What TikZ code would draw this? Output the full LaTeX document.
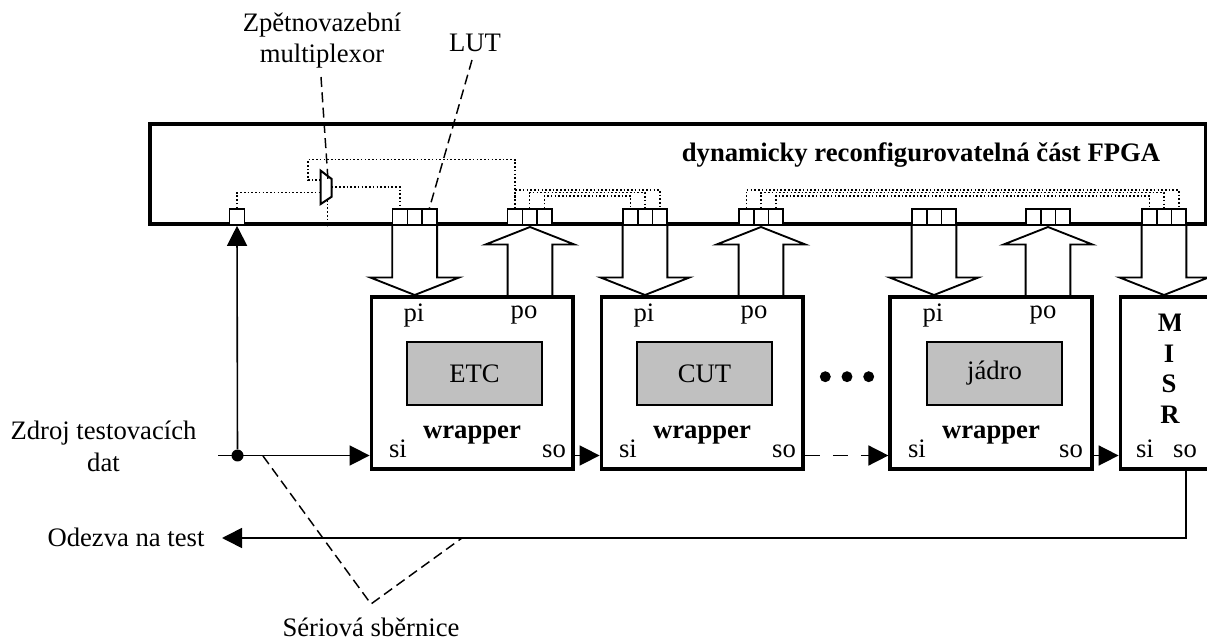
\documentclass[tikz,border=0pt]{standalone}
\usepackage{fontspec}
\usetikzlibrary{arrows.meta,shapes.arrows}
\setmainfont{Liberation Serif}
\definecolor{coregray}{HTML}{C0C0C0}

\begin{document}
\begin{tikzpicture}[x=0.75pt,y=-0.75pt,
 txt/.style={inner sep=0pt,anchor=base,font=\fontsize{20}{23.25}\selectfont,align=center},
 boldtxt/.style={txt,font=\fontsize{20}{23.25}\selectfont\bfseries},
 fpgabox/.style={draw,line width=2.8pt,minimum width=791.8pt,minimum height=75.2pt,inner sep=0pt},
 wrapbox/.style={draw,line width=2.8pt,minimum width=151.1pt,minimum height=129pt,inner sep=0pt},
 misrbox/.style={draw,line width=2.8pt,minimum width=70.9pt,minimum height=129pt,inner sep=0pt},
 corebox/.style={draw,line width=1.2pt,fill=coregray,minimum width=101.25pt,minimum height=47pt,inner sep=0pt,font=\fontsize{20}{23.25}\selectfont},
 lutcell/.style={draw,line width=1.2pt,fill=white,minimum width=11pt,minimum height=12pt,inner sep=0pt},
 muxshape/.style={draw,line width=1.5pt,fill=white},
 busarrow/.style={draw,line width=1.4pt,fill=white,single arrow,single arrow tip angle=137,single arrow head extend=16.5pt,single arrow head indent=0pt,minimum height=52.5pt,inner xsep=0pt,inner ysep=16.1pt,anchor=tip},
 busdown/.style={busarrow,rotate=-90},
 busup/.style={busarrow,rotate=90},
 sarrow/.style={-{Triangle[length=15pt,width=15pt]},line width=1.2pt},
 wire/.style={line width=1.1pt,dash pattern=on 1.2pt off 1.6pt},
 tagline/.style={line width=1.1pt,dash pattern=on 7.5pt off 4pt}
]
\useasboundingbox (0,0) rectangle (1207,641);
\node[busdown] (busa) at (414.7,296) {};
\node[busup] (busb) at (530,226) {};
\node[busdown] (busc) at (645,296) {};
\node[busup] (busd) at (761,226) {};
\node[busdown] (buse) at (934,296) {};
\node[busup] (busf) at (1048,226) {};
\node[busdown] (busg) at (1164,296) {};
\node[fpgabox] (fpga) at (677.85,174.15) {};
\node[boldtxt] (fpgatxt) at (921,161.5) {dynamicky reconfigurovatelná část FPGA};
\node[lutcell] (port) at (237,217) {};
\node[lutcell] (a1) at (400,217) {};
\node[lutcell] (a2) at (414.7,217) {};
\node[lutcell] (a3) at (429.4,217) {};
\node[lutcell] (b1) at (515,217) {};
\node[lutcell] (b2) at (529.7,217) {};
\node[lutcell] (b3) at (544.4,217) {};
\node[lutcell] (c1) at (630.5,217) {};
\node[lutcell] (c2) at (645.2,217) {};
\node[lutcell] (c3) at (659.9,217) {};
\node[lutcell] (d1) at (746.5,217) {};
\node[lutcell] (d2) at (761.2,217) {};
\node[lutcell] (d3) at (775.9,217) {};
\node[lutcell] (e1) at (919.5,217) {};
\node[lutcell] (e2) at (934.2,217) {};
\node[lutcell] (e3) at (948.9,217) {};
\node[lutcell] (f1) at (1033.5,217) {};
\node[lutcell] (f2) at (1048.2,217) {};
\node[lutcell] (f3) at (1062.9,217) {};
\node[lutcell] (g1) at (1149.5,217) {};
\node[lutcell] (g2) at (1164.2,217) {};
\node[lutcell] (g3) at (1178.9,217) {};
\coordinate (muxlt) at (320.7,170.7);
\coordinate (muxrt) at (331.7,179);
\coordinate (muxrb) at (331.7,196.7);
\coordinate (muxlb) at (320.7,204);
\coordinate (muxin) at (320.7,192.7);
\coordinate (muxback) at (320.7,180);
\coordinate (muxout) at (331.7,187);
\coordinate (muxsel) at (327.7,200);
\coordinate (fbk) at (308,159.7);
\draw[muxshape] (muxlt) -- (muxrt) -- (muxrb) -- (muxlb) -- cycle;
\draw[wire] (port.north) |- (muxin);
\draw[wire] (muxout) -| (a1.north);
\draw[wire] (muxback) -| (fbk) -| (b1.north);
\draw[wire] (muxsel) -- (muxsel |- fpga.south);
\draw[wire] (b1.north) -- ++(0,-18.3) -| (c3.north);
\draw[wire] (b2.north) -- ++(0,-15.5) -| (c2.north);
\draw[wire] (b3.north) -- ++(0,-12.3) -| (c1.north);
\draw[wire] (d1.north) -- ++(0,-18.3) -| (g3.north);
\draw[wire] (d2.north) -- ++(0,-15.5) -| (g2.north);
\draw[wire] (d3.north) -- ++(0,-12.3) -| (g1.north);
\node[wrapbox] (wrapa) at (472.2,383) {};
\node[wrapbox] (wrapb) at (702.2,383) {};
\node[wrapbox] (wrapc) at (991,383) {};
\node[misrbox] (misr) at (1167.75,383) {};
\node[corebox] (etc) at (474.5,373.4) {ETC};
\node[corebox] (cut) at (704.5,373.4) {CUT};
\node[corebox] (jadro) at (994.5,373.4) {jádro};
\node[txt] (pia) at (414,322) {pi};
\node[txt] (poa) at (524,319) {po};
\node[txt] (sia) at (398,458) {si};
\node[txt] (soa) at (554,458) {so};
\node[boldtxt] (wrta) at (472,439) {wrapper};
\node[txt] (pib) at (644,322) {pi};
\node[txt] (pob) at (754,319) {po};
\node[txt] (sib) at (628,458) {si};
\node[txt] (sob) at (784,458) {so};
\node[boldtxt] (wrtb) at (702,439) {wrapper};
\node[txt] (pic) at (933,322) {pi};
\node[txt] (poc) at (1043,319) {po};
\node[txt] (sic) at (917,458) {si};
\node[txt] (soc) at (1071,458) {so};
\node[boldtxt] (wrtc) at (991,439) {wrapper};
\begin{scope}
\clip (1150,305) rectangle (1180,340);
\node[boldtxt] (misrm) at (1170.5,331.7) {M};
\end{scope}
\node[boldtxt] (misri) at (1169,362.7) {I};
\node[boldtxt] (misrs) at (1169,393) {S};
\node[boldtxt] (misrr) at (1170,424) {R};
\node[txt] (sid) at (1145,458) {si};
\node[txt] (sod) at (1185,458) {so};
\node[circle,fill,minimum size=8.2pt,inner sep=0pt] (dota) at (825.3,376.7) {};
\node[circle,fill,minimum size=8.2pt,inner sep=0pt] (dotb) at (847,376.7) {};
\node[circle,fill,minimum size=8.2pt,inner sep=0pt] (dotc) at (868.7,376.7) {};
\node[circle,fill,minimum size=9pt,inner sep=0pt] (srcdot) at (237.5,455.5) {};
\coordinate (srcin) at (218,455.5);
\coordinate (soturn) at (1185.7,538);
\coordinate (retend) at (222,538);
\draw[sarrow] (srcdot) -- (port.south);
\draw[sarrow] (srcin) -- (wrapa.west |- srcin);
\draw[sarrow] (wrapa.east |- srcin) -- (wrapb.west |- srcin);
\draw[sarrow,dash pattern=on 11.25pt off 9.75pt] (wrapb.east |- srcin) -- (wrapc.west |- srcin);
\draw[sarrow] (wrapc.east |- srcin) -- (misr.west |- srcin);
\draw[sarrow] (soturn |- misr.south) -- (soturn) -- (retend);
\node[txt] (zdroj) at (103.5,439.5) {Zdroj testovacích};
\node[txt] (dat) at (103.5,471.7) {dat};
\node[txt] (odezva) at (126,546.7) {Odezva na test};
\node[txt] (serial) at (371,636.5) {Sériová sběrnice};
\node[txt] (zpet) at (322,32) {Zpětnovazební};
\node[txt] (multi) at (322,63) {multiplexor};
\node[txt] (lut) at (475,52) {LUT};
\coordinate (muxtag) at (321,77);
\coordinate (muxtip) at (328,180);
\coordinate (luttag) at (472,60);
\coordinate (tagin) at (263,456);
\coordinate (tagtip) at (371,604);
\coordinate (tagret) at (462,538);
\draw[tagline] (muxtag) -- (muxtip);
\draw[tagline] (luttag) -- (a3.north);
\draw[tagline] (tagin) -- (tagtip) -- (tagret);
\end{tikzpicture}
\end{document}
